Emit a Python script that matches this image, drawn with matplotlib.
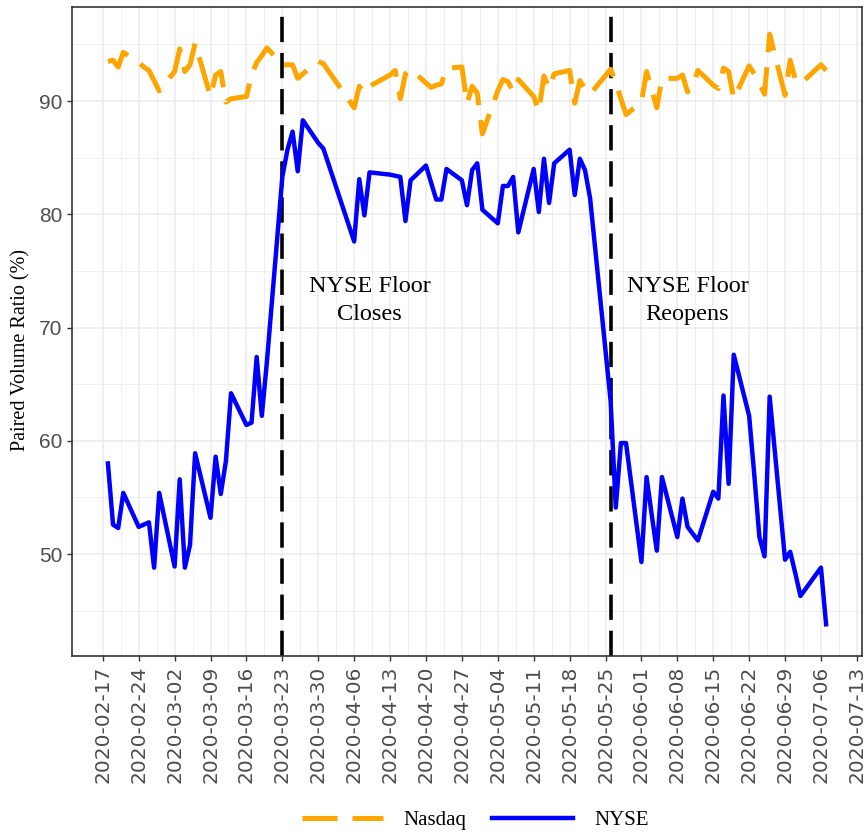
import matplotlib
matplotlib.use('Agg')
import matplotlib.pyplot as plt
import matplotlib.dates as mdates
from matplotlib.ticker import MultipleLocator
from matplotlib.lines import Line2D
import pandas as pd

# ---------------------------------------------------------------------------
# Data (trading days only)
# ---------------------------------------------------------------------------
dates = [
    '2020-02-18', '2020-02-19', '2020-02-20', '2020-02-21',
    '2020-02-24', '2020-02-25', '2020-02-26', '2020-02-27', '2020-02-28',
    '2020-03-02', '2020-03-03', '2020-03-04', '2020-03-05', '2020-03-06',
    '2020-03-09', '2020-03-10', '2020-03-11', '2020-03-12', '2020-03-13',
    '2020-03-16', '2020-03-17', '2020-03-18', '2020-03-19', '2020-03-20',
    '2020-03-23', '2020-03-24', '2020-03-25', '2020-03-26', '2020-03-27',
    '2020-03-30', '2020-03-31',
    '2020-04-06', '2020-04-07', '2020-04-08', '2020-04-09',
    '2020-04-13', '2020-04-14', '2020-04-15', '2020-04-16', '2020-04-17',
    '2020-04-20', '2020-04-21', '2020-04-22', '2020-04-23', '2020-04-24',
    '2020-04-27', '2020-04-28', '2020-04-29', '2020-04-30', '2020-05-01',
    '2020-05-04', '2020-05-05', '2020-05-06', '2020-05-07', '2020-05-08',
    '2020-05-11', '2020-05-12', '2020-05-13', '2020-05-14', '2020-05-15',
    '2020-05-18', '2020-05-19', '2020-05-20', '2020-05-21', '2020-05-22',
    '2020-05-26', '2020-05-27', '2020-05-28', '2020-05-29',
    '2020-06-01', '2020-06-02', '2020-06-03', '2020-06-04', '2020-06-05',
    '2020-06-08', '2020-06-09', '2020-06-10', '2020-06-11', '2020-06-12',
    '2020-06-15', '2020-06-16', '2020-06-17', '2020-06-18', '2020-06-19',
    '2020-06-22', '2020-06-23', '2020-06-24', '2020-06-25', '2020-06-26',
    '2020-06-29', '2020-06-30', '2020-07-01', '2020-07-02',
    '2020-07-06', '2020-07-07',
]

nasdaq = [
    93.5, 93.6, 93.0, 94.3,
    93.4, 93.0, 92.7, 91.8, 90.9,
    92.6, 94.6, 92.6, 93.2, 95.1,
    90.4, 92.3, 92.6, 89.9, 90.2,
    90.4, 92.3, 93.4, 94.0, 94.7,
    93.2, 93.2, 93.2, 92.0, 92.4,
    93.5, 93.3,
    89.4, 91.3, 90.7, 91.3,
    92.3, 92.7, 90.2, 92.4, 92.8,
    91.6, 91.2, 91.4, 91.5, 92.9,
    93.0, 89.8, 91.3, 90.7, 87.1,
    90.9, 91.9, 91.7, 90.8, 91.9,
    90.4, 89.1, 92.2, 91.1, 92.4,
    92.7, 89.8, 91.8, 91.1, 90.6,
    92.8, 91.6, 90.2, 88.8,
    89.9, 92.6, 91.0, 89.4, 92.0,
    92.0, 92.3, 90.8, 91.3, 92.7,
    91.4, 91.1, 92.9, 92.6, 90.2,
    93.1, 92.4, 91.6, 90.6, 95.9,
    90.5, 93.6, 91.9, 91.5,
    93.2, 92.7,
]

nyse = [
    58.0, 52.6, 52.3, 55.4,
    52.4, 52.6, 52.8, 48.8, 55.4,
    48.9, 56.6, 48.8, 50.8, 58.9,
    53.2, 58.6, 55.3, 58.2, 64.2,
    61.4, 61.6, 67.4, 62.2, 67.0,
    83.3, 85.7, 87.3, 83.8, 88.3,
    86.3, 85.8,
    77.6, 83.1, 79.9, 83.7,
    83.5, 83.4, 83.3, 79.4, 83.0,
    84.3, 82.8, 81.3, 81.3, 84.0,
    83.0, 80.8, 83.9, 84.5, 80.4,
    79.2, 82.5, 82.5, 83.3, 78.4,
    84.0, 80.2, 84.9, 81.0, 84.5,
    85.7, 81.7, 84.9, 83.9, 81.4,
    63.5, 54.1, 59.8, 59.8,
    49.3, 56.8, 53.5, 50.3, 56.8,
    51.5, 54.9, 52.4, 51.8, 51.2,
    55.5, 54.9, 64.0, 56.2, 67.6,
    62.2, 57.0, 51.5, 49.8, 63.9,
    49.5, 50.2, 48.3, 46.3,
    48.8, 43.8,
]

event_dates = ['2020-03-23', '2020-05-26']
event_labels = ['NYSE Floor\nCloses', 'NYSE Floor\nReopens']
label_dates = ['2020-04-09', '2020-06-10']

ORANGE = '#FFA500'
BLUE = '#0000FF'
GRID = '#EBEBEB'
DARK = '#333333'
SERIF = 'Liberation Serif'
SANS = 'Liberation Sans'

x = pd.to_datetime(dates)

fig = plt.figure(figsize=(8.67, 8.36), dpi=100)
fig.patch.set_facecolor('white')
ax = fig.add_axes([72 / 867, 1 - 656 / 836, 790 / 867, 649 / 836])

# event lines under the data
for d in event_dates:
    ax.axvline(pd.Timestamp(d), color='black', linewidth=2.6,
               linestyle=(0, (7, 3)), zorder=2)

ax.plot(x, nasdaq, color=ORANGE, linewidth=3.6, linestyle=(0, (7, 3)),
        solid_joinstyle='round', dash_joinstyle='round', zorder=3)
ax.plot(x, nyse, color=BLUE, linewidth=3.2,
        solid_joinstyle='round', zorder=4)

for d, lab in zip(label_dates, event_labels):
    ax.text(pd.Timestamp(d), 72.4, lab, ha='center', va='center',
            family=SERIF, fontsize=17.5, linespacing=1.45, zorder=5)

# axes limits with ggplot-like 5% expansion
pad = (x.max() - x.min()) * 0.05
ax.set_xlim(x.min() - pad, x.max() + pad)
ax.set_ylim(41.0, 98.3)

major = pd.date_range('2020-02-17', '2020-07-13', freq='7D')
minor = major[:-1] + pd.Timedelta(hours=84)
ax.set_xticks(major)
ax.set_xticks(minor, minor=True)
ax.xaxis.set_major_formatter(mdates.DateFormatter('%Y-%m-%d'))
ax.yaxis.set_major_locator(MultipleLocator(10))
ax.yaxis.set_minor_locator(MultipleLocator(5))

ax.grid(True, which='major', color=GRID, linewidth=1.1, zorder=0)
ax.grid(True, which='minor', color=GRID, linewidth=0.55, zorder=0)
ax.set_axisbelow(True)

for s in ax.spines.values():
    s.set_color(DARK)
    s.set_linewidth(1.2)

ax.tick_params(axis='both', which='major', length=3.5, width=1.0,
               color=DARK, labelcolor='#4D4D4D')
ax.tick_params(axis='both', which='minor', length=0)
for lab in ax.get_xticklabels():
    lab.set_rotation(90)
    lab.set_family('DejaVu Sans')
    lab.set_fontsize(14.5)
for lab in ax.get_yticklabels():
    lab.set_family(SANS)
    lab.set_fontsize(15)

ax.set_ylabel('Paired Volume Ratio (%)', family=SERIF, fontsize=14.5,
              color='black')
ax.yaxis.set_label_coords(-0.053, 0.471)

handles = [
    Line2D([], [], color=ORANGE, linewidth=3.6, linestyle=(0, (7, 3))),
    Line2D([], [], color=BLUE, linewidth=3.2),
]
fig.legend(handles, ['Nasdaq', 'NYSE'], loc='center',
           bbox_to_anchor=(0.548, 0.019), ncol=2, frameon=False,
           prop={'family': SERIF, 'size': 15}, handlelength=3.9,
           handletextpad=1.0, columnspacing=1.2)

fig.savefig('out.png', dpi=100, facecolor='white')
plt.close(fig)
